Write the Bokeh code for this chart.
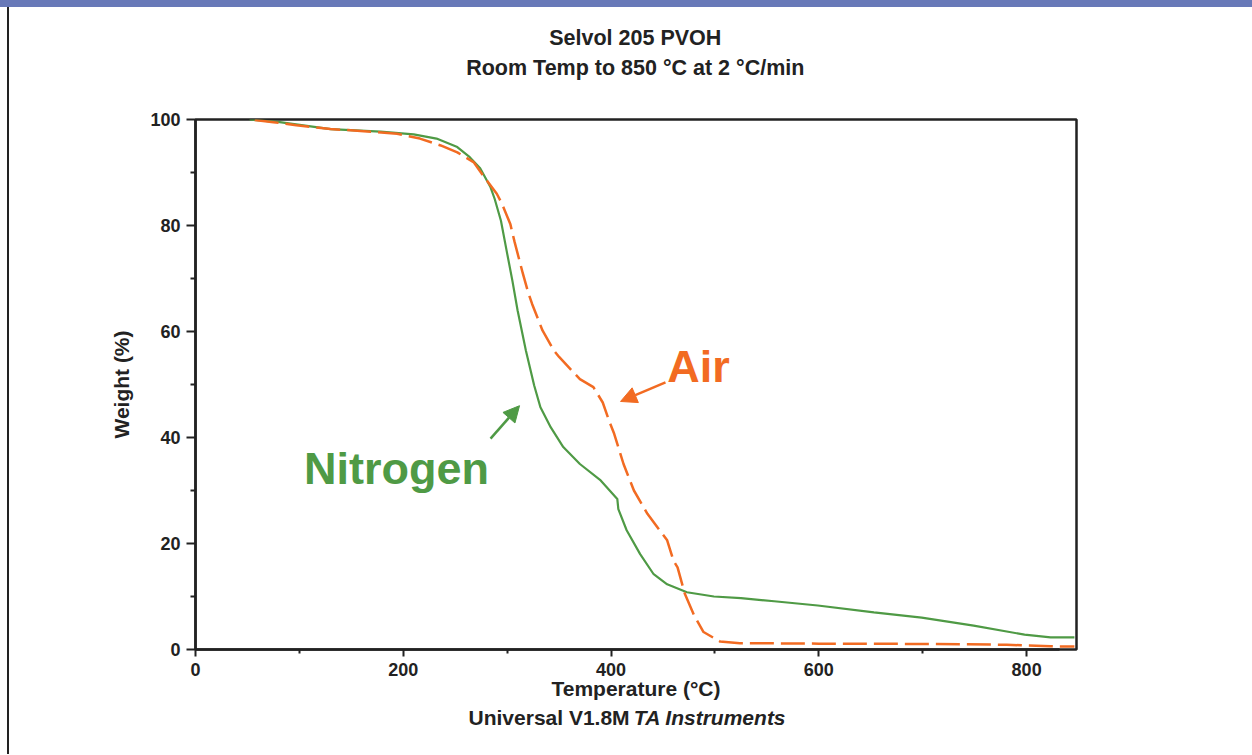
import math
from bokeh.plotting import figure
from bokeh.models import (Range1d, FixedTicker, Label, Arrow, NormalHead, Div)
from bokeh.layouts import column, row
from bokeh.embed import file_html
from bokeh.resources import INLINE

# ---------------- data ----------------
n2_temp = [52, 81, 130, 178, 210, 232, 252, 264, 274, 284, 288, 294, 300, 305,
           310, 318, 326, 332, 342, 354, 370, 390, 406, 407, 415, 428, 441,
           454, 473, 499, 525, 557, 599, 653, 699, 749, 798, 823, 846]
n2_weight = [100.0, 99.5, 98.2, 97.7, 97.2, 96.4, 94.8, 92.9, 90.8, 87.2, 85.0,
             80.9, 74.7, 69.6, 64.0, 56.4, 49.8, 45.7, 41.9, 38.2, 35.0, 31.9,
             28.4, 26.5, 22.5, 18.0, 14.2, 12.3, 10.8, 10.0, 9.7, 9.1, 8.3, 7.0,
             6.0, 4.5, 2.8, 2.3, 2.3]

air_temp = [57, 75, 97, 130, 162, 194, 216, 236, 252, 268, 278, 290, 295, 303,
            307, 311, 315, 320, 324, 334, 345, 350, 370, 383, 392, 398, 403,
            412, 422, 435, 454, 460, 464, 471, 480, 489, 505, 524, 600, 700,
            781, 823, 846]
air_weight = [99.9, 99.5, 98.9, 98.2, 97.8, 97.3, 96.4, 95.1, 93.8, 91.9, 89.1,
              86.0, 84.1, 80.3, 77.0, 74.0, 71.0, 67.5, 65.2, 60.2, 56.4, 55.2,
              51.0, 49.5, 46.6, 43.2, 40.7, 35.0, 30.0, 25.6, 20.6, 16.8, 15.5,
              10.5, 6.4, 3.3, 1.5, 1.2, 1.1, 1.05, 0.9, 0.6, 0.55]

x_major = [0, 200, 400, 600, 800]
x_minor = [100, 300, 500, 700]
y_major = [0, 20, 40, 60, 80, 100]
y_minor = [10, 30, 50, 70, 90]

title_lines = ["Selvol 205 PVOH", "Room Temp to 850 °C at 2 °C/min"]
x_title = "Temperature (°C)"
y_title = "Weight (%)"
footer_plain = "Universal V1.8M"
footer_italic = "TA Instruments"

GREEN = "#4f9a45"
ORANGE = "#f26b22"
INK = "#222222"
FONT = "Liberation Sans"
W = 1242

# ---------------- main chart ----------------
p = figure(width=W, height=610, output_backend="svg", toolbar_location=None,
           x_range=Range1d(0, 848), y_range=Range1d(0, 100),
           min_border_left=186, min_border_right=175,
           min_border_top=24, min_border_bottom=56)
p.grid.visible = False
p.outline_line_color = INK
p.outline_line_width = 2.5
p.background_fill_color = "white"
p.border_fill_color = "white"

p.xaxis.ticker = FixedTicker(ticks=x_major, minor_ticks=x_minor)
p.yaxis.ticker = FixedTicker(ticks=y_major, minor_ticks=y_minor)
for ax in (p.xaxis[0], p.yaxis[0]):
    ax.axis_line_color = INK
    ax.axis_line_width = 2.5
    ax.major_tick_line_color = INK
    ax.minor_tick_line_color = INK
    ax.major_tick_line_width = 2
    ax.minor_tick_line_width = 2
    ax.major_tick_in = 0
    ax.minor_tick_in = 0
    ax.major_label_text_font = FONT
    ax.major_label_text_font_style = "bold"
    ax.major_label_text_font_size = "18px"
    ax.major_label_text_color = INK
    ax.axis_label_text_font = FONT
    ax.axis_label_text_font_style = "bold"
    ax.axis_label_text_font_size = "21px"
    ax.axis_label_text_color = INK
p.xaxis.major_tick_out = 7
p.xaxis.minor_tick_out = 4
p.xaxis.major_label_standoff = 6
p.xaxis.bounds = (0, 832)
p.yaxis.major_tick_out = 9
p.yaxis.minor_tick_out = 5
p.yaxis.major_label_standoff = 6
p.xaxis.axis_label = x_title
p.xaxis.axis_label_standoff = -2
p.yaxis.axis_label = y_title
p.yaxis.axis_label_standoff = 14

p.line(n2_temp, n2_weight, line_color=GREEN, line_width=2.2)
p.line(air_temp, air_weight, line_color=ORANGE, line_width=2.5, line_dash="24 7")

p.add_layout(Label(x=484.2, y=53.4, text="Air", text_font=FONT, text_font_size="45px",
                   text_font_style="bold", text_color=ORANGE, text_align="center",
                   text_baseline="middle"))
p.add_layout(Label(x=193.5, y=34.2, text="Nitrogen", text_font=FONT, text_font_size="45px",
                   text_font_style="bold", text_color=GREEN, text_align="center",
                   text_baseline="middle"))

p.add_layout(Arrow(end=NormalHead(size=16, fill_color=ORANGE, line_color=ORANGE),
                   x_start=452.4, y_start=50.4, x_end=409.1, y_end=46.8,
                   line_color=ORANGE, line_width=2.5))
p.add_layout(Arrow(end=NormalHead(size=16, fill_color=GREEN, line_color=GREEN),
                   x_start=284.0, y_start=39.8, x_end=311.9, y_end=46.0,
                   line_color=GREEN, line_width=2.5))

# ---------------- text strips (pixel coordinates, y from top) ----------------
def strip(height):
    f = figure(width=W, height=height, output_backend="svg", toolbar_location=None,
               x_range=Range1d(0, W), y_range=Range1d(height, 0),
               x_axis_type=None, y_axis_type=None, min_border=0)
    f.grid.visible = False
    f.outline_line_color = None
    f.background_fill_color = "white"
    f.border_fill_color = "white"
    return f

def txt(f, text, x, y, align="center", style="bold", size="21px"):
    f.add_layout(Label(x=x, y=y, text=text, text_font=FONT, text_font_size=size,
                       text_font_style=style, text_color=INK, text_align=align,
                       text_baseline="middle"))

head = strip(88)
txt(head, title_lines[0], 620, 30, size="21.5px")
txt(head, title_lines[1], 620, 60, size="21.5px")

foot = strip(49)
txt(foot, footer_plain, 612, 12, align="right")
txt(foot, footer_italic, 618, 12, align="left", style="bold italic")

top_bar = Div(text="", width=1252, height=7, margin=0,
              styles={"background-color": "#6879b8"})
gap = Div(text="", width=7, height=747, margin=0, styles={"background-color": "white"})
left_rule = Div(text="", width=2, height=747, margin=0,
                styles={"background-color": INK})
layout = column(top_bar,
                row(gap, left_rule, column(head, p, foot, spacing=0), spacing=0),
                spacing=0)

open("out.html", "w").write(file_html(layout, INLINE))
